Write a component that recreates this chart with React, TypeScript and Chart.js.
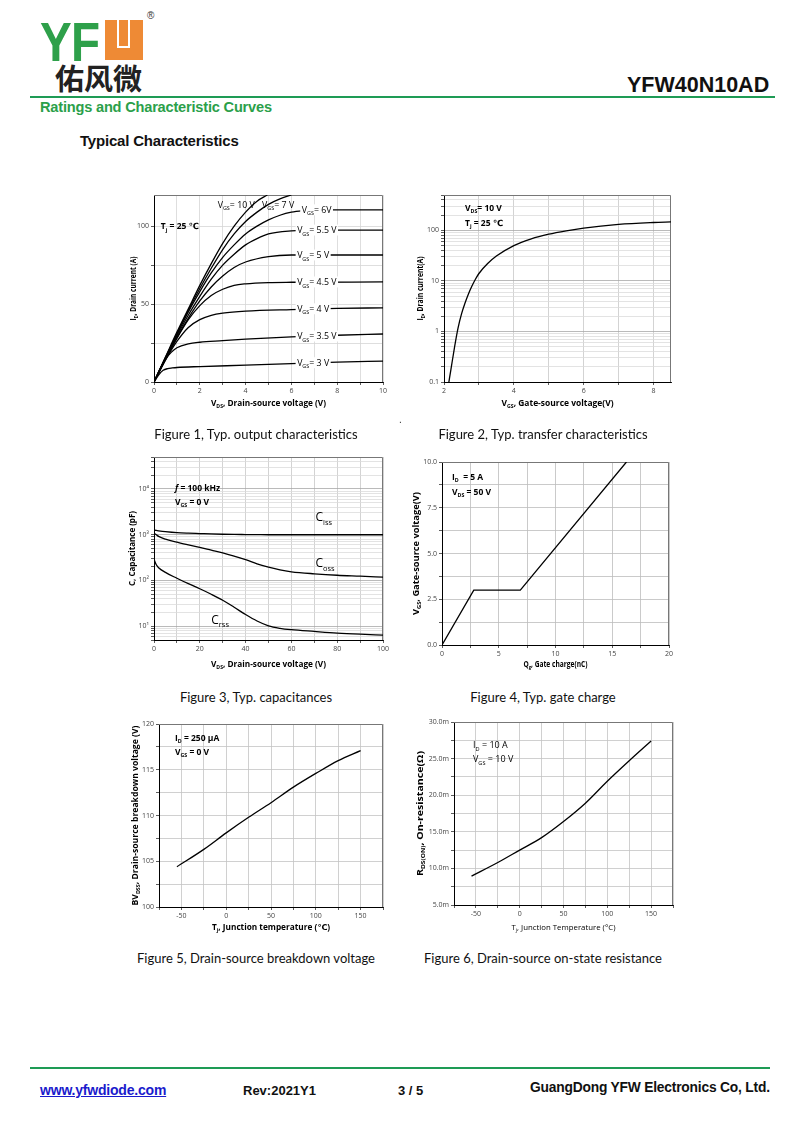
import React, { useEffect, useRef } from "react";
import { Chart, registerables } from "chart.js";

Chart.register(...registerables);

// ---------------- Figure 1: output characteristics ----------------
const f1Vds_10V = [0, 0.5, 1, 1.5, 2, 2.5, 3, 3.5, 4, 4.5, 4.95];
const f1Id_10V = [0, 16, 32, 47, 62, 76, 89, 100, 109, 116, 120];
const f1Vds_7V = [0, 0.5, 1, 1.5, 2, 2.5, 3, 3.5, 4, 4.5, 5, 5.5, 6];
const f1Id_7V = [0, 15.5, 31, 46, 60, 73, 85, 95, 103, 109, 114, 117.5, 120];
const f1Vds_6V = [0, 0.5, 1, 1.5, 2, 2.5, 3, 3.5, 4, 4.5, 5, 5.5, 6, 6.5, 7, 10];
const f1Id_6V = [0, 15.5, 30.5, 45, 58, 70, 80, 88, 95, 100, 104, 107, 109, 110, 110.5, 110.5];
const f1Vds_5V5 = [0, 0.5, 1, 1.5, 2, 2.5, 3, 3.5, 4, 4.5, 5, 6, 7, 10];
const f1Id_5V5 = [0, 15, 29.5, 43, 55, 66, 75, 82, 88, 92, 95, 97, 97.5, 97.5];
const f1Vds_5V = [0, 0.5, 1, 1.5, 2, 2.5, 3, 3.5, 4, 5, 6, 10];
const f1Id_5V = [0, 14.5, 28.5, 41, 52, 61, 68, 73.5, 77, 80.5, 81.5, 81.5];
const f1Vds_4V5 = [0, 0.5, 1, 1.5, 2, 2.5, 3, 3.5, 4, 5, 6, 10];
const f1Id_4V5 = [0, 14.5, 28, 40, 49, 55.5, 59.5, 62, 63, 63.8, 64, 64.2];
const f1Vds_4V = [0, 0.5, 1, 1.5, 2, 2.5, 3, 4, 6, 8, 10];
const f1Id_4V = [0, 14, 26, 35, 40, 42.8, 44.2, 45.5, 46.5, 47.2, 47.6];
const f1Vds_3V5 = [0, 0.25, 0.5, 0.75, 1, 1.5, 2, 3, 4, 6, 8, 10];
const f1Id_3V5 = [0, 8, 14.5, 19, 22, 24.5, 25.5, 26.5, 27.5, 29, 30, 30.8];
const f1Vds_3V = [0, 0.2, 0.4, 0.6, 0.8, 1, 2, 4, 6, 8, 10];
const f1Id_3V = [0, 4.5, 7.5, 8.6, 9, 9.3, 9.9, 10.8, 11.8, 12.8, 13.4];
const f1XGrid = [0, 1, 2, 3, 4, 5, 6, 7, 8, 9, 10];
const f1XLabels = [0, 2, 4, 6, 8, 10];
const f1YGrid = [0, 25, 50, 75, 100];
const f1YLabels = [0, 50, 100];

// ---------------- Figure 2: transfer characteristics ----------------
const f2Vgs = [2.14, 2.2, 2.3, 2.4, 2.5, 2.6, 2.7, 2.8, 2.9, 3.0, 3.25, 3.5, 4, 4.5, 5, 5.5, 6, 7, 8, 8.5];
const f2Id = [0.1, 0.18, 0.48, 1.15, 2.2, 3.6, 5.5, 7.9, 10.8, 14, 22, 31, 50, 68, 84, 98, 111, 131, 143, 147];
const f2XGrid = [2, 3, 4, 5, 6, 7, 8];
const f2XLabels = [2, 4, 6, 8];
const f2YLabels = [0.1, 1, 10, 100];

// ---------------- Figure 3: capacitances ----------------
const f3Vds = [0, 1, 2, 5, 10, 15, 20, 25, 30, 35, 40, 45, 50, 55, 60, 70, 80, 90, 100];
const f3Ciss = [1260, 1240, 1220, 1170, 1110, 1080, 1060, 1040, 1025, 1015, 1010, 1005, 1000, 1000, 1000, 1000, 1000, 1000, 1000];
const f3Coss = [1080, 1000, 920, 800, 690, 600, 530, 460, 400, 340, 285, 230, 195, 170, 155, 140, 130, 124, 118];
const f3Crss = [290, 220, 190, 150, 112, 85, 66, 50, 37, 26, 18, 13, 10.2, 9, 8.4, 7.7, 7.1, 6.7, 6.4];
const f3XGrid = [0, 10, 20, 30, 40, 50, 60, 70, 80, 90, 100];
const f3XLabels = [0, 20, 40, 60, 80, 100];
const f3YLabels = [10, 100, 1000, 10000];
const f3YText: Record<number, string> = { 10: "10¹", 100: "10²", 1000: "10³", 10000: "10⁴" };

// ---------------- Figure 4: gate charge ----------------
const f4Qg = [0, 2.8, 6.9, 16.25];
const f4Vgs = [0, 3.0, 3.0, 10];
const f4XGrid = [0, 2.5, 5, 7.5, 10, 12.5, 15, 17.5, 20];
const f4XLabels = [0, 5, 10, 15, 20];
const f4YGrid = [0, 1.25, 2.5, 3.75, 5, 6.25, 7.5, 8.75, 10];
const f4YLabels = [0, 2.5, 5, 7.5, 10];

// ---------------- Figure 5: breakdown voltage ----------------
const f5Tj = [-55, -25, 0, 25, 50, 75, 100, 125, 150];
const f5Bv = [104.4, 106.3, 108.1, 109.8, 111.4, 113.1, 114.6, 116.0, 117.1];
const tjGrid = [-75, -50, -25, 0, 25, 50, 75, 100, 125, 150, 175];
const tjLabels = [-50, 0, 50, 100, 150];
const f5YGrid = [100, 102.5, 105, 107.5, 110, 112.5, 115, 117.5, 120];
const f5YLabels = [100, 105, 110, 115, 120];

// ---------------- Figure 6: on-resistance ----------------
const f6Tj = [-55, -25, 0, 25, 50, 75, 100, 125, 150];
const f6Rds = [8.95, 10.8, 12.5, 14.2, 16.4, 18.9, 21.9, 24.7, 27.4];
const f6YGrid = [5, 7.5, 10, 12.5, 15, 17.5, 20, 22.5, 25, 27.5, 30];
const f6YLabels = [5, 10, 15, 20, 25, 30];

const captions = [
  "Figure 1, Typ. output characteristics",
  "Figure 2, Typ. transfer characteristics",
  "Figure 3, Typ. capacitances",
  "Figure 4, Typ. gate charge",
  "Figure 5, Drain-source breakdown voltage",
  "Figure 6, Drain-source on-state resistance",
];

// ---------------- helpers ----------------
const FONT = '"Open Sans", "DejaVu Sans", sans-serif';

type Seg = { t: string; s?: "sub" | "sup"; i?: boolean };
type RichOpt = {
  size: number;
  weight?: string;
  align?: "left" | "center" | "right";
  rot?: number;
  bg?: boolean;
  color?: string;
  fit?: number;
};

function drawRich(ctx: CanvasRenderingContext2D, segs: Seg[], x: number, y: number, o: RichOpt) {
  const size = o.size;
  const w = o.weight || "normal";
  const fontFor = (s: Seg) => `${s.i ? "italic " : ""}${w} ${s.s ? size * 0.62 : size}px ${FONT}`;
  ctx.save();
  ctx.translate(x, y);
  if (o.rot) ctx.rotate(o.rot);
  let total = 0;
  const widths = segs.map((s) => {
    ctx.font = fontFor(s);
    const m = ctx.measureText(s.t).width;
    total += m;
    return m;
  });
  if (o.fit) ctx.scale(o.fit / total, 1);
  let cx = o.align === "center" ? -total / 2 : o.align === "right" ? -total : 0;
  if (o.bg) {
    ctx.fillStyle = "#fff";
    ctx.fillRect(cx - 1.5, -size * 0.62, total + 3, size * 1.24);
  }
  ctx.fillStyle = o.color || "#000";
  ctx.textBaseline = "alphabetic";
  const base = size * 0.36;
  segs.forEach((s, i) => {
    ctx.font = fontFor(s);
    const dy = s.s === "sub" ? size * 0.28 : s.s === "sup" ? -size * 0.42 : 0;
    ctx.fillText(s.t, cx, base + dy);
    cx += widths[i];
  });
  ctx.restore();
}

const V = (sub: string, rest: string): Seg[] => [{ t: "V" }, { t: sub, s: "sub" }, { t: rest }];
const Sg = (main: string, sub: string, rest: string): Seg[] => [{ t: main }, { t: sub, s: "sub" }, { t: rest }];

function logGrid(lo: number, hi: number): number[] {
  const out: number[] = [];
  for (let e = -3; e <= 6; e++) {
    for (let m = 1; m <= 9; m++) {
      const v = +(m * Math.pow(10, e)).toPrecision(6);
      if (v >= lo * 0.9999 && v <= hi * 1.0001) out.push(v);
    }
  }
  return out;
}

const isIn = (list: number[], v: number) => list.some((l) => Math.abs(l - v) <= 1e-6 * Math.max(1, Math.abs(l)));

type AxisSpec = {
  type: "linear" | "logarithmic";
  min: number;
  max: number;
  grid: number[];
  labels: number[];
  fmt: (v: number) => string;
  minor?: string;
  major?: string;
};

type Note = {
  segs: Seg[];
  x: number;
  y: number;
  mode: "data" | "area";
  size?: number;
  weight?: string;
  bg?: boolean;
};

type Series = { x: number[]; y: number[]; straight?: boolean };

type FigSpec = {
  box: [number, number, number, number];
  area: [number, number, number, number];
  series: Series[];
  xa: AxisSpec;
  ya: AxisSpec;
  xTitle: Seg[];
  yTitle: Seg[];
  xTitleDy: number;
  yTitleDx: number;
  xTitleFit: number;
  yTitleFit: number;
  xTitleWeight?: string;
  titleSize?: number;
  notes: Note[];
};

function axisOptions(a: AxisSpec, which: "x" | "y", size: number) {
  return {
    type: a.type,
    min: a.min,
    max: a.max,
    afterBuildTicks: (s: any) => {
      s.ticks = a.grid.map((v) => ({ value: v }));
    },
    afterFit: (s: any) => {
      if (which === "x") s.height = size;
      else s.width = size;
    },
    ticks: {
      autoSkip: false,
      maxRotation: 0,
      minRotation: 0,
      padding: 2,
      color: "#444",
      font: { size: 7, family: FONT },
      callback: (v: any) => (isIn(a.labels, Number(v)) ? a.fmt(Number(v)) : ""),
    },
    grid: {
      color: (c: any) =>
        c.tick && isIn(a.labels, c.tick.value) ? a.major || "#c8c8c8" : a.minor || "#d6d6d6",
      lineWidth: 0.8,
      drawTicks: true,
      tickLength: 3,
      tickColor: "#333",
    },
    border: { display: true, color: "#000", width: 1 },
  };
}

function ChartBox({ spec }: { spec: FigSpec }) {
  const ref = useRef<HTMLCanvasElement>(null);
  const [bl, bt, bw, bh] = spec.box;
  useEffect(() => {
    const [al, at, ar, ab] = spec.area;
    const yw = al - bl;
    const xh = bt + bh - ab;
    const pt = at - bt;
    const pr = bl + bw - ar;
    const deco = {
      id: "deco",
      beforeDatasetsDraw(chart: any) {
        const { ctx, chartArea: a } = chart;
        ctx.save();
        ctx.strokeStyle = "#777";
        ctx.lineWidth = 1;
        ctx.beginPath();
        ctx.moveTo(a.left, a.top + 0.5);
        ctx.lineTo(a.right - 0.5, a.top + 0.5);
        ctx.lineTo(a.right - 0.5, a.bottom);
        ctx.stroke();
        ctx.restore();
      },
      afterDatasetsDraw(chart: any) {
        const { ctx, chartArea: a, scales } = chart;
        spec.notes.forEach((n) => {
          const px = n.mode === "data" ? scales.x.getPixelForValue(n.x) : a.left + n.x;
          const py = n.mode === "data" ? scales.y.getPixelForValue(n.y) : a.top + n.y;
          drawRich(ctx, n.segs, px, py, { size: n.size || 8, weight: n.weight, bg: n.bg, align: "left" });
        });
      },
      afterDraw(chart: any) {
        const { ctx, chartArea: a } = chart;
        const ts = spec.titleSize || 8;
        drawRich(ctx, spec.xTitle, (a.left + a.right) / 2, a.bottom + spec.xTitleDy, {
          size: ts,
          weight: spec.xTitleWeight || "bold",
          align: "center",
          fit: spec.xTitleFit,
        });
        drawRich(ctx, spec.yTitle, a.left - spec.yTitleDx, (a.top + a.bottom) / 2, {
          size: ts,
          weight: "bold",
          align: "center",
          rot: -Math.PI / 2,
          fit: spec.yTitleFit,
        });
      },
    };
    const chart = new Chart(ref.current as HTMLCanvasElement, {
      type: "line",
      data: {
        datasets: spec.series.map((s) => ({
          data: s.x.map((x, i) => ({ x, y: s.y[i] })),
          borderColor: "#000",
          borderWidth: 1.3,
          pointRadius: 0,
          fill: false,
          tension: s.straight ? 0 : 0.4,
          cubicInterpolationMode: s.straight ? "default" : "monotone",
        })),
      },
      options: {
        responsive: false,
        animation: false,
        devicePixelRatio: 1,
        layout: { padding: { top: pt, right: pr, left: 0, bottom: 0 } },
        plugins: { legend: { display: false }, tooltip: { enabled: false } },
        scales: {
          x: axisOptions(spec.xa, "x", xh) as any,
          y: axisOptions(spec.ya, "y", yw) as any,
        },
      } as any,
      plugins: [deco],
    });
    return () => chart.destroy();
  }, []);
  return (
    <canvas
      ref={ref}
      width={bw}
      height={bh}
      style={{ position: "absolute", left: bl, top: bt, width: bw, height: bh }}
    />
  );
}

// ---------------- figure specs ----------------
const fig1: FigSpec = {
  box: [110, 180, 290, 235],
  area: [154, 195, 383, 382],
  series: [
    { x: f1Vds_10V, y: f1Id_10V },
    { x: f1Vds_7V, y: f1Id_7V },
    { x: f1Vds_6V, y: f1Id_6V },
    { x: f1Vds_5V5, y: f1Id_5V5 },
    { x: f1Vds_5V, y: f1Id_5V },
    { x: f1Vds_4V5, y: f1Id_4V5 },
    { x: f1Vds_4V, y: f1Id_4V },
    { x: f1Vds_3V5, y: f1Id_3V5 },
    { x: f1Vds_3V, y: f1Id_3V },
  ],
  xa: { type: "linear", min: 0, max: 10, grid: f1XGrid, labels: f1XLabels, fmt: (v) => String(v), major: "#d6d6d6" },
  ya: { type: "linear", min: 0, max: 120, grid: f1YGrid, labels: f1YLabels, fmt: (v) => String(v), major: "#d6d6d6" },
  xTitle: V("DS", ", Drain-source voltage (V)"),
  yTitle: Sg("I", "D", ", Drain current (A)"),
  xTitleDy: 21,
  yTitleDx: 21,
  xTitleFit: 115,
  yTitleFit: 64,
  notes: [
    { segs: V("GS", "= 10 V"), x: 2.78, y: 114, mode: "data", size: 8.8 },
    { segs: V("GS", "= 7 V"), x: 4.72, y: 114, mode: "data", size: 8.8 },
    { segs: V("GS", "= 6V"), x: 6.45, y: 110.5, mode: "data", bg: true, size: 8.8 },
    { segs: V("GS", "= 5.5 V"), x: 6.25, y: 97.5, mode: "data", bg: true, size: 8.8 },
    { segs: V("GS", "= 5 V"), x: 6.25, y: 81.5, mode: "data", bg: true, size: 8.8 },
    { segs: V("GS", "= 4.5 V"), x: 6.25, y: 64.2, mode: "data", bg: true, size: 8.8 },
    { segs: V("GS", "= 4 V"), x: 6.25, y: 47, mode: "data", bg: true, size: 8.8 },
    { segs: V("GS", "= 3.5 V"), x: 6.25, y: 29.5, mode: "data", bg: true, size: 8.8 },
    { segs: V("GS", "= 3 V"), x: 6.25, y: 12.4, mode: "data", bg: true, size: 8.8 },
    { segs: Sg("T", "j", " = 25 ℃"), x: 0.3, y: 100, mode: "data", weight: "bold", size: 8.5 },
  ],
};

const fig2: FigSpec = {
  box: [405, 180, 285, 235],
  area: [444, 195, 671, 382],
  series: [{ x: f2Vgs, y: f2Id }],
  xa: { type: "linear", min: 2, max: 8.5, grid: f2XGrid, labels: f2XLabels, fmt: (v) => String(v), major: "#c8c8c8", minor: "#c8c8c8" },
  ya: { type: "logarithmic", min: 0.1, max: 500, grid: logGrid(0.1, 500), labels: f2YLabels, fmt: (v) => String(v), major: "#a8a8a8", minor: "#dcdcdc" },
  xTitle: V("GS", ", Gate-source voltage(V)"),
  yTitle: Sg("I", "D", ", Drain current(A)"),
  xTitleDy: 21,
  yTitleDx: 24,
  xTitleFit: 112,
  yTitleFit: 64,
  notes: [
    { segs: V("DS", "= 10 V"), x: 21, y: 13, mode: "area", weight: "bold", size: 8.5 },
    { segs: Sg("T", "j", " = 25 ℃"), x: 21, y: 28, mode: "area", weight: "bold", size: 8.5 },
  ],
};

const fig3: FigSpec = {
  box: [110, 442, 290, 235],
  area: [154, 457, 383, 640],
  series: [
    { x: f3Vds, y: f3Ciss },
    { x: f3Vds, y: f3Coss },
    { x: f3Vds, y: f3Crss },
  ],
  xa: { type: "linear", min: 0, max: 100, grid: f3XGrid, labels: f3XLabels, fmt: (v) => String(v), major: "#c8c8c8", minor: "#c8c8c8" },
  ya: { type: "logarithmic", min: 5, max: 50000, grid: logGrid(5, 50000), labels: f3YLabels, fmt: (v) => f3YText[v] || "", major: "#a8a8a8", minor: "#dcdcdc" },
  xTitle: V("DS", ", Drain-source voltage (V)"),
  yTitle: [{ t: "C, Capacitance (pF)" }],
  xTitleDy: 24,
  yTitleDx: 22,
  xTitleFit: 115,
  yTitleFit: 75,
  notes: [
    { segs: [{ t: "f", i: true }, { t: " = 100 kHz" }], x: 21, y: 31, mode: "area", weight: "bold", size: 8.5 },
    { segs: V("GS", " = 0 V"), x: 21, y: 45, mode: "area", weight: "bold", size: 8.5 },
    { segs: Sg("C", "iss", ""), x: 70.5, y: 2450, mode: "data", size: 12 },
    { segs: Sg("C", "oss", ""), x: 70.5, y: 240, mode: "data", size: 12 },
    { segs: Sg("C", "rss", ""), x: 25, y: 14, mode: "data", size: 12 },
  ],
};

const fig4: FigSpec = {
  box: [405, 447, 285, 228],
  area: [442, 462, 669, 645],
  series: [{ x: f4Qg, y: f4Vgs, straight: true }],
  xa: { type: "linear", min: 0, max: 20, grid: f4XGrid, labels: f4XLabels, fmt: (v) => String(v), major: "#bdbdbd", minor: "#bdbdbd" },
  ya: { type: "linear", min: 0, max: 10, grid: f4YGrid, labels: f4YLabels, fmt: (v) => v.toFixed(1), major: "#bdbdbd", minor: "#bdbdbd" },
  xTitle: Sg("Q", "g", ", Gate charge(nC)"),
  yTitle: V("GS", ", Gate-source voltage(V)"),
  xTitleDy: 19,
  yTitleDx: 26,
  xTitleFit: 64,
  yTitleFit: 123,
  notes: [
    { segs: Sg("I", "D", "  = 5 A"), x: 10, y: 15, mode: "area", weight: "bold", size: 8.5 },
    { segs: V("DS", " = 50 V"), x: 10, y: 30, mode: "area", weight: "bold", size: 8.5 },
  ],
};

const fig5: FigSpec = {
  box: [110, 709, 290, 231],
  area: [159, 724, 383, 907],
  series: [{ x: f5Tj, y: f5Bv }],
  xa: { type: "linear", min: -75, max: 175, grid: tjGrid, labels: tjLabels, fmt: (v) => String(v), major: "#c4c4c4", minor: "#c4c4c4" },
  ya: { type: "linear", min: 100, max: 120, grid: f5YGrid, labels: f5YLabels, fmt: (v) => String(v), major: "#c4c4c4", minor: "#c4c4c4" },
  xTitle: Sg("T", "j", ", Junction temperature (℃)"),
  yTitle: Sg("BV", "DSS", ", Drain-source breakdown voltage (V)"),
  xTitleDy: 20,
  yTitleDx: 24,
  xTitleFit: 118,
  yTitleFit: 180,
  notes: [
    { segs: Sg("I", "D", " = 250 μA"), x: 16, y: 14, mode: "area", weight: "bold", size: 8.5 },
    { segs: V("GS", " = 0 V"), x: 16, y: 28, mode: "area", weight: "bold", size: 8.5 },
  ],
};

const fig6: FigSpec = {
  box: [405, 707, 285, 233],
  area: [454, 722, 673, 905],
  series: [{ x: f6Tj, y: f6Rds }],
  xa: { type: "linear", min: -75, max: 175, grid: tjGrid, labels: tjLabels, fmt: (v) => String(v), major: "#c4c4c4", minor: "#c4c4c4" },
  ya: { type: "linear", min: 5, max: 30, grid: f6YGrid, labels: f6YLabels, fmt: (v) => v.toFixed(1) + "m", major: "#c4c4c4", minor: "#c4c4c4" },
  xTitle: Sg("T", "j", ", Junction Temperature (°C)"),
  yTitle: Sg("R", "DS(ON)", ", On-resistance(Ω)"),
  xTitleDy: 22,
  yTitleDx: 34,
  xTitleFit: 104,
  yTitleFit: 125,
  xTitleWeight: "normal",
  notes: [
    { segs: Sg("I", "D", " = 10 A"), x: 19, y: 23, mode: "area", size: 9 },
    { segs: V("GS", " = 10 V"), x: 19, y: 37, mode: "area", size: 9 },
  ],
};

const figs = [fig1, fig2, fig3, fig4, fig5, fig6];
const captionPos: [number, number][] = [
  [256, 434],
  [543, 434],
  [256, 697],
  [543, 697],
  [256, 958],
  [543, 958],
];

const ARIAL = '"Liberation Sans", Arial, sans-serif';
const GREEN = "#1e9b55";

export default function App() {
  return (
    <div
      style={{
        position: "absolute",
        left: 0,
        top: 0,
        width: 800,
        height: 1130,
        background: "#fff",
        overflow: "hidden",
        fontFamily: ARIAL,
      }}
    >
      {/* logo */}
      <div
        style={{
          position: "absolute",
          left: 40,
          top: 14,
          font: `bold 56px ${ARIAL}`,
          lineHeight: "56px",
          color: "#2ea04a",
          transform: "scaleX(0.85)",
          transformOrigin: "left top",
          letterSpacing: -1,
        }}
      >
        YF
      </div>
      <div style={{ position: "absolute", left: 105, top: 20, width: 38, height: 40, background: "#ee8a35" }}>
        <div
          style={{
            position: "absolute",
            left: 12,
            top: 0,
            width: 9,
            height: 26,
            borderLeft: "2.5px solid #fff",
            borderRight: "2.5px solid #fff",
            borderBottom: "2.5px solid #fff",
          }}
        />
      </div>
      <div style={{ position: "absolute", left: 147, top: 10, font: `10px ${ARIAL}`, color: "#333" }}>®</div>
      <div
        style={{
          position: "absolute",
          left: 55,
          top: 60,
          font: 'bold 29px "Noto Sans CJK SC", sans-serif',
          lineHeight: "34px",
          color: "#222",
        }}
      >
        佑风微
      </div>
      <div
        style={{
          position: "absolute",
          left: 627,
          top: 73,
          font: `bold 21.5px ${ARIAL}`,
          lineHeight: "24px",
          color: "#111",
        }}
      >
        YFW40N10AD
      </div>
      <div style={{ position: "absolute", left: 30, top: 96, width: 745, height: 2, background: GREEN }} />
      <div
        style={{
          position: "absolute",
          left: 40,
          top: 99,
          font: `bold 14.6px ${ARIAL}`,
          lineHeight: "17px",
          color: "#2ba04a",
          letterSpacing: -0.2,
        }}
      >
        Ratings and Characteristic Curves
      </div>
      <div
        style={{
          position: "absolute",
          left: 80,
          top: 132,
          font: `bold 15px ${ARIAL}`,
          lineHeight: "18px",
          color: "#111",
          letterSpacing: -0.2,
        }}
      >
        Typical Characteristics
      </div>

      {figs.map((f, i) => (
        <ChartBox key={i} spec={f} />
      ))}

      {captions.map((c, i) => (
        <div
          key={i}
          style={{
            position: "absolute",
            left: captionPos[i][0] - 160,
            top: captionPos[i][1] - 9,
            width: 320,
            textAlign: "center",
            font: '13px Lato, "Open Sans", sans-serif',
            lineHeight: "18px",
            color: "#111",
          }}
        >
          {c}
        </div>
      ))}
      <div style={{ position: "absolute", left: 399, top: 414, font: `10px ${ARIAL}`, color: "#333" }}>.</div>

      {/* footer */}
      <div style={{ position: "absolute", left: 30, top: 1067, width: 740, height: 2, background: GREEN }} />
      <div
        style={{
          position: "absolute",
          left: 40,
          top: 1082,
          font: `bold 14px ${ARIAL}`,
          lineHeight: "17px",
          color: "#1a1acc",
          textDecoration: "underline",
          letterSpacing: -0.2,
        }}
      >
        www.yfwdiode.com
      </div>
      <div style={{ position: "absolute", left: 243, top: 1083, font: `bold 13px ${ARIAL}`, lineHeight: "16px", color: "#111" }}>
        Rev:2021Y1
      </div>
      <div style={{ position: "absolute", left: 398, top: 1083, font: `bold 13px ${ARIAL}`, lineHeight: "16px", color: "#111" }}>
        3 / 5
      </div>
      <div
        style={{
          position: "absolute",
          left: 530,
          top: 1079,
          font: `bold 13.8px ${ARIAL}`,
          lineHeight: "17px",
          color: "#111",
          letterSpacing: -0.2,
        }}
      >
        GuangDong YFW Electronics Co, Ltd.
      </div>
    </div>
  );
}
